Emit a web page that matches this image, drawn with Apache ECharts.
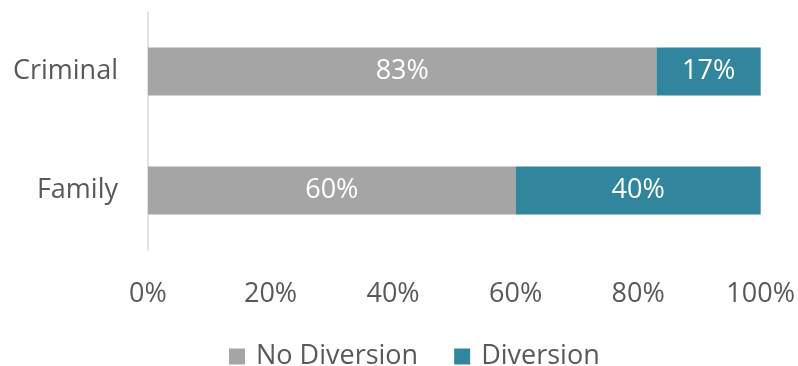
<!DOCTYPE html>
<html>
<head>
<meta charset="utf-8">
<style>
  html, body { margin: 0; padding: 0; background: #fff; }
  #chart { width: 798px; height: 366px; }
</style>
<script src="https://cdn.jsdelivr.net/npm/echarts@6/dist/echarts.min.js"></script>
</head>
<body>
<div id="chart"></div>
<script>
// Case types, listed bottom-to-top for the category axis
const categories = ['Family', 'Criminal'];
// Share of cases (percent) per case type
const noDiversion = [60, 83];
const diversion = [40, 17];
const seriesNames = ['No Diversion', 'Diversion'];

const FONT = '"Open Sans", sans-serif';
const chart = echarts.init(document.getElementById('chart'), null, { renderer: 'canvas' });

const label = {
  show: true,
  position: 'inside',
  color: '#ffffff',
  fontFamily: FONT,
  fontSize: 27,
  formatter: p => p.value + '%'
};

chart.setOption({
  animation: false,
  grid: { left: 148, right: 37, top: 12, bottom: 116, containLabel: false },
  legend: {
    data: seriesNames,
    bottom: -9,
    left: 224,
    itemWidth: 16,
    itemHeight: 16,
    itemGap: 36,
    icon: 'rect',
    textStyle: { color: '#595959', fontFamily: FONT, fontSize: 27, padding: [0, 0, 0, 6] }
  },
  xAxis: {
    type: 'value',
    min: 0,
    max: 100,
    interval: 20,
    axisLine: { show: false },
    axisTick: { show: false },
    splitLine: { show: false },
    axisLabel: {
      color: '#595959', fontFamily: FONT, fontSize: 27, margin: 31,
      formatter: v => v + '%'
    }
  },
  yAxis: {
    type: 'category',
    data: categories,
    axisLine: { show: true, lineStyle: { color: '#D9D9D9', width: 1.5 } },
    axisTick: { show: false },
    axisLabel: { color: '#595959', fontFamily: FONT, fontSize: 27, margin: 30 }
  },
  series: [
    {
      name: seriesNames[0], type: 'bar', stack: 'total', barWidth: 48,
      itemStyle: { color: '#A5A5A5' },
      label: label,
      data: noDiversion
    },
    {
      name: seriesNames[1], type: 'bar', stack: 'total', barWidth: 48,
      itemStyle: { color: '#31859C' },
      label: label,
      data: diversion
    }
  ]
});
</script>
</body>
</html>
